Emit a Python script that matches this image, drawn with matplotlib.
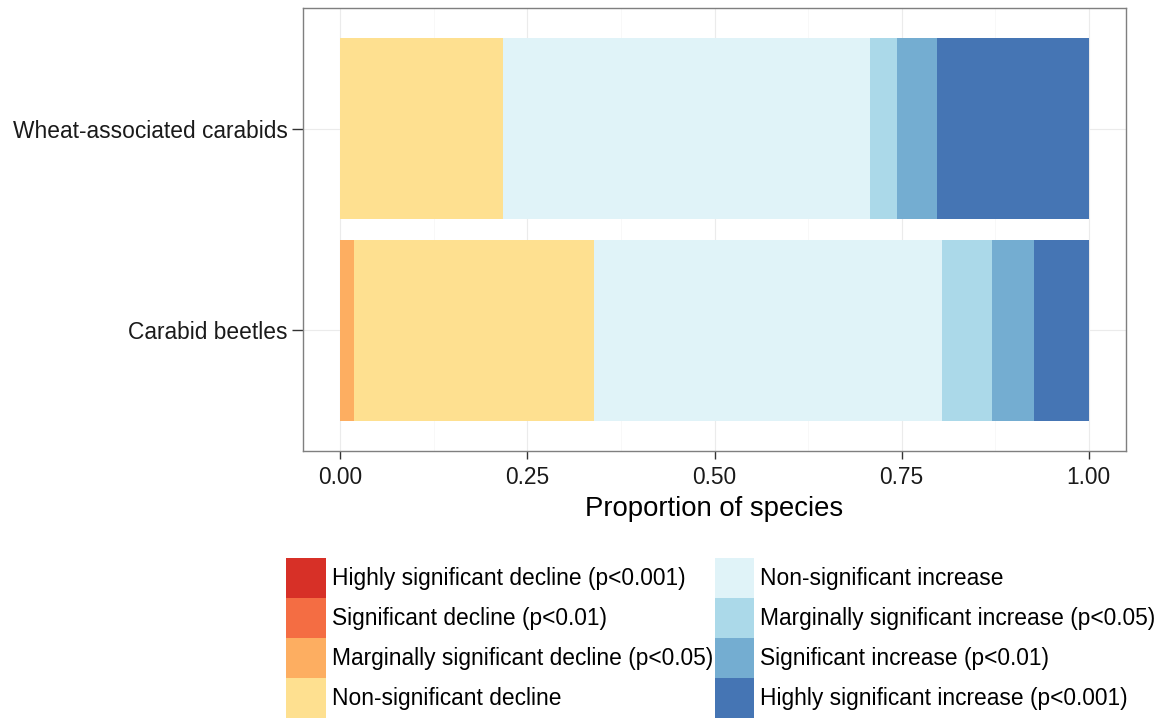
import matplotlib
matplotlib.use('Agg')
import numpy as np
from matplotlib import pyplot as plt
from matplotlib.patches import Patch

plt.rcParams['font.family'] = ['Liberation Sans', 'DejaVu Sans']

# groups, bottom to top
groups = ['Carabid beetles', 'Wheat-associated carabids']

categories = [
    'Highly significant decline (p<0.001)',
    'Significant decline (p<0.01)',
    'Marginally significant decline (p<0.05)',
    'Non-significant decline',
    'Non-significant increase',
    'Marginally significant increase (p<0.05)',
    'Significant increase (p<0.01)',
    'Highly significant increase (p<0.001)',
]
colors = ['#D73027', '#F46D43', '#FDAE61', '#FEE090',
          '#E0F3F8', '#ABD9E9', '#74ADD1', '#4575B4']

# proportion of species in each category
carabid = [0.0, 0.0, 0.018, 0.321, 0.465, 0.067, 0.056, 0.073]
wheat = [0.0, 0.0, 0.0, 0.217, 0.491, 0.036, 0.053, 0.203]

W, H = 1162, 718
fig = plt.figure(figsize=(W / 100, H / 100), dpi=100)
ax = fig.add_axes([303 / W, 1 - 451 / H, (1126 - 303) / W, (451 - 8) / H])

props = np.array([carabid, wheat])
ypos = np.arange(1, len(groups) + 1)
left = np.zeros(len(groups))
for i, cat in enumerate(categories):
    ax.barh(ypos, props[:, i], left=left, height=0.9, color=colors[i],
            linewidth=0, label=cat)
    left += props[:, i]

ax.set_xlim(-0.05, 1.05)
ax.set_ylim(0.4, 2.6)
ax.set_xticks([0, 0.25, 0.5, 0.75, 1.0])
ax.set_xticklabels(['0.00', '0.25', '0.50', '0.75', '1.00'])
ax.set_xticks([0.125, 0.375, 0.625, 0.875], minor=True)
ax.set_yticks(ypos)
ax.set_yticklabels(groups)

ax.set_axisbelow(True)
ax.grid(which='major', color='#EBEBEB', linewidth=0.8)
ax.grid(which='minor', axis='x', color='#F7F7F7', linewidth=0.6)
for s in ax.spines.values():
    s.set_color('#7F7F7F')
    s.set_linewidth(1.0)

ax.tick_params(axis='x', which='major', length=6, width=1, color='#333333',
               labelsize=16.4, pad=5, labelcolor='#1a1a1a')
ax.tick_params(axis='y', which='major', length=8, width=1, color='#333333',
               labelsize=16.4, pad=3, labelcolor='#1a1a1a')
ax.tick_params(which='minor', length=0)

ax.set_xlabel('Proportion of species', fontsize=19.8, labelpad=5)

# legend keys 40px square, stacked without gaps
handles = [Patch(facecolor=c, edgecolor='none') for c in colors]
fig.legend(handles, categories, ncol=2, loc='upper left',
           bbox_to_anchor=(286 / W, 1 - 558 / H), frameon=False,
           borderpad=0, borderaxespad=0, handlelength=1.75, handleheight=2.32,
           labelspacing=0, handletextpad=0.26, columnspacing=0.07,
           fontsize=16.4)

fig.savefig('out.png', dpi=100)
